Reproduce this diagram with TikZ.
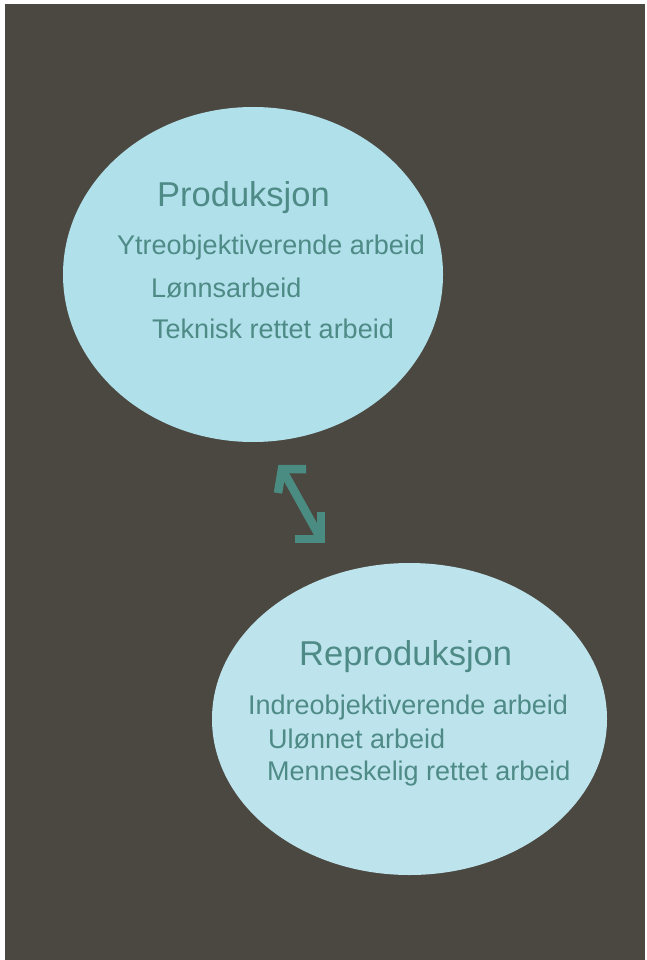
\documentclass[tikz,border=0pt]{standalone}
\usepackage{fontspec}
\setmainfont{Liberation Sans}
\usetikzlibrary{calc,shapes.geometric}
\definecolor{bgdark}{HTML}{4B4841}
\definecolor{ellA}{HTML}{B0E0EA}
\definecolor{ellB}{HTML}{BDE4EC}
\definecolor{tealtext}{HTML}{4E8A86}
\definecolor{tealarrow}{HTML}{4A8C82}
\begin{document}
\begin{tikzpicture}[x=1pt,y=-1pt,
  ell/.style={ellipse, draw=none, inner sep=0pt},
  title/.style={anchor=base west, inner sep=0pt, text=tealtext, font=\fontsize{34.5}{40}\selectfont},
  item/.style={anchor=base west, inner sep=0pt, text=tealtext, font=\fontsize{27}{32}\selectfont},
  arrowline/.style={draw=tealarrow, line width=8.5pt, line join=miter, line cap=butt}]
\useasboundingbox (0,0) rectangle (647,960);
\fill[white] (0,0) rectangle (647,960);
\fill[bgdark] (5,4) rectangle (645,960);
\node[ell, fill=ellA, minimum width=380pt, minimum height=335pt] (prod) at (253,274.5) {};
\node[ell, fill=ellB, minimum width=395pt, minimum height=312pt] (repro) at (409.5,719) {};
\node[title] (t1) at (157,206) {Produksjon};
\node[item] (p1) at (117,254) {Ytreobjektiverende arbeid};
\node[item] (p2) at (151,297) {Lønnsarbeid};
\node[item] (p3) at (152,338) {Teknisk rettet arbeid};
\node[title] (t2) at (299,665) {Reproduksjon};
\node[item] (r1) at (248,714) {Indreobjektiverende arbeid};
\node[item] (r2) at (268,748) {Ulønnet arbeid};
\node[item] (r3) at (267,780) {Menneskelig rettet arbeid};
\coordinate (a1) at (282,469);
\coordinate (a2) at (321,539);
\draw[arrowline] (a1) -- (a2);
\draw[arrowline] ($(a1)+(24,0)$) -- (a1) -- ($(a1)+(-4,24)$);
\draw[arrowline] ($(a2)+(-26,0)$) -- (a2) -- ($(a2)+(0,-27)$);
\end{tikzpicture}
\end{document}
